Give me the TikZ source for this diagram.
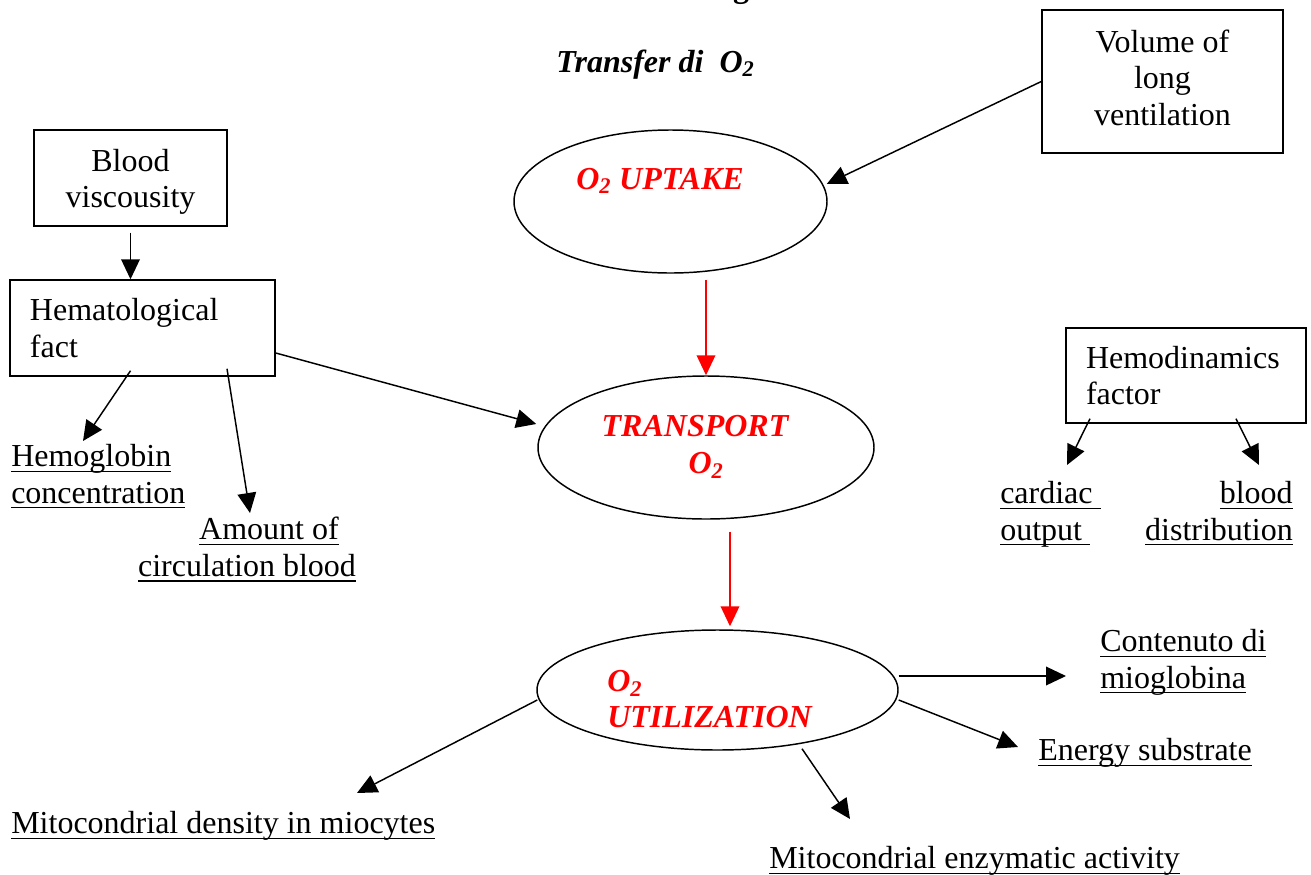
\documentclass[tikz,border=0pt]{standalone}
\usepackage{amsmath}
\usepackage{fontspec}
\setmainfont{Liberation Serif}
\usepackage{tikz}
\usetikzlibrary{arrows.meta,calc,shapes.geometric}

\newcommand{\bodysize}{\fontsize{24}{27.4}\selectfont}
\newcommand{\ulin}[1]{\underline{\smash[b]{#1}}}

\begin{document}
\begin{tikzpicture}[x=0.75pt,y=0.75pt,yscale=-1,
  every node/.style={inner sep=0pt, font=\bodysize},
  box/.style={draw, line width=1.1pt},
  oval/.style={draw, ellipse, line width=1.1pt},
  hot/.style={text=red, font=\bodysize\bfseries\itshape},
  arr/.style={line width=1.1pt, -{Triangle[length=15pt,width=14pt]}},
  redarr/.style={arr, red}]
\useasboundingbox (0,0) rectangle (1311,875);

% Title
\node[anchor=base, font=\bodysize\bfseries] (cut) at (741,-3) {g};
\node[anchor=base west, font=\bodysize\bfseries\itshape] (title) at (556,72) {Transfer di\ \ O\textsubscript{2}};

% Ellipses
\node[oval, minimum width=234.75pt, minimum height=107.25pt] (uptake) at (670.5,201.5) {};
\node[hot, anchor=base west] (uptaketxt) at (576,189) {O\textsubscript{2} UPTAKE};
\node[oval, minimum width=252pt, minimum height=107.25pt] (transport) at (706,447.5) {};
\node[hot, align=center] (transporttxt) at (695,447) {TRANSPORT\\\hspace*{16.5pt}O\textsubscript{2}};
\node[oval, minimum width=270.75pt, minimum height=90pt] (util) at (717.5,690) {};
\node[hot, align=left, anchor=west] (utiltxt) at (607,699) {O\textsubscript{2}\\UTILIZATION};

% Boxes
\node[box, minimum width=180.75pt, minimum height=107.25pt, align=center, text depth=6pt] (vol) at (1162.5,81.5) {Volume of\\long\\ventilation};
\node[box, minimum width=144.75pt, minimum height=72pt, align=center] (blood) at (130.5,178) {\rule{0pt}{22.6pt}Blood\\viscousity};
\node[box, minimum width=198.75pt, minimum height=72pt, text width=168.75pt, align=left] (hemat) at (142.5,328) {Hematological\\fact};
\node[box, minimum width=180pt, minimum height=71.25pt, text width=150pt, align=left] (hemod) at (1186,375.5) {Hemodinamics\\factor};

% Underlined labels
\node[align=left, anchor=west] (hemo) at (11,477) {\ulin{Hemoglobin}\\\ulin{concentration}};
\node[align=center] (amount) at (247,550) {\hspace*{33pt}\ulin{Amount of}\\\ulin{circulation blood}};
\node[align=left, anchor=west] (cardiac) at (1000,514) {\ulin{cardiac\ }\\\ulin{output\ }};
\node[align=right, anchor=east] (bdist) at (1293,514) {\ulin{blood}\\\ulin{distribution}};
\node[align=left, anchor=west] (mio) at (1100,662) {\ulin{Contenuto di}\\\ulin{mioglobina}};
\node[anchor=west] (energy) at (1038,753) {\ulin{Energy substrate}};
\node[anchor=west] (enzym) at (769,861) {\ulin{Mitocondrial enzymatic activity}};
\node[anchor=west] (density) at (11,826) {\ulin{Mitocondrial density in miocytes}};

% Connectors
\draw[arr] (vol.west) -- ($(uptake.east)+(-1,-17.5)$);
\draw[redarr, shorten <=5pt] (uptake.south -| transport.north) -- (transport.north);
\draw[redarr] ($(transport.south)+(24,12)$) -- ($(util.north)+(12.5,-3)$);
\draw[arr, shorten <=4.5pt] (blood.south) -- (blood.south |- hemat.north);
\draw[arr] ($(hemat.south)+(-12,-6)$) -- ($(hemo.west)+(72,-36)$);
\draw[arr] ($(hemat.south)+(84.5,-8)$) -- ($(amount.center)+(3,-37)$);
\draw[arr] ($(hemat.east)+(0,25)$) -- ($(transport.west)+(-1,-23.5)$);
\draw[arr] ($(hemod.south)+(-96,-5)$) -- ($(cardiac.west)+(67,-49)$);
\draw[arr] ($(hemod.south)+(50,-5)$) -- ($(bdist.east)+(-34,-49)$);
\draw[arr] ($(util.east)+(0,-14)$) -- ($(mio.west)+(-34,14)$);
\draw[arr] ($(util.east)+(0,10)$) -- ($(energy.west)+(-20,-6)$);
\draw[arr] ($(util.south)+(84.5,-2)$) -- ($(enzym.west)+(81,-42)$);
\draw[arr] ($(util.west)+(1,10)$) -- ($(density.west)+(346,-33)$);

\end{tikzpicture}
\end{document}
